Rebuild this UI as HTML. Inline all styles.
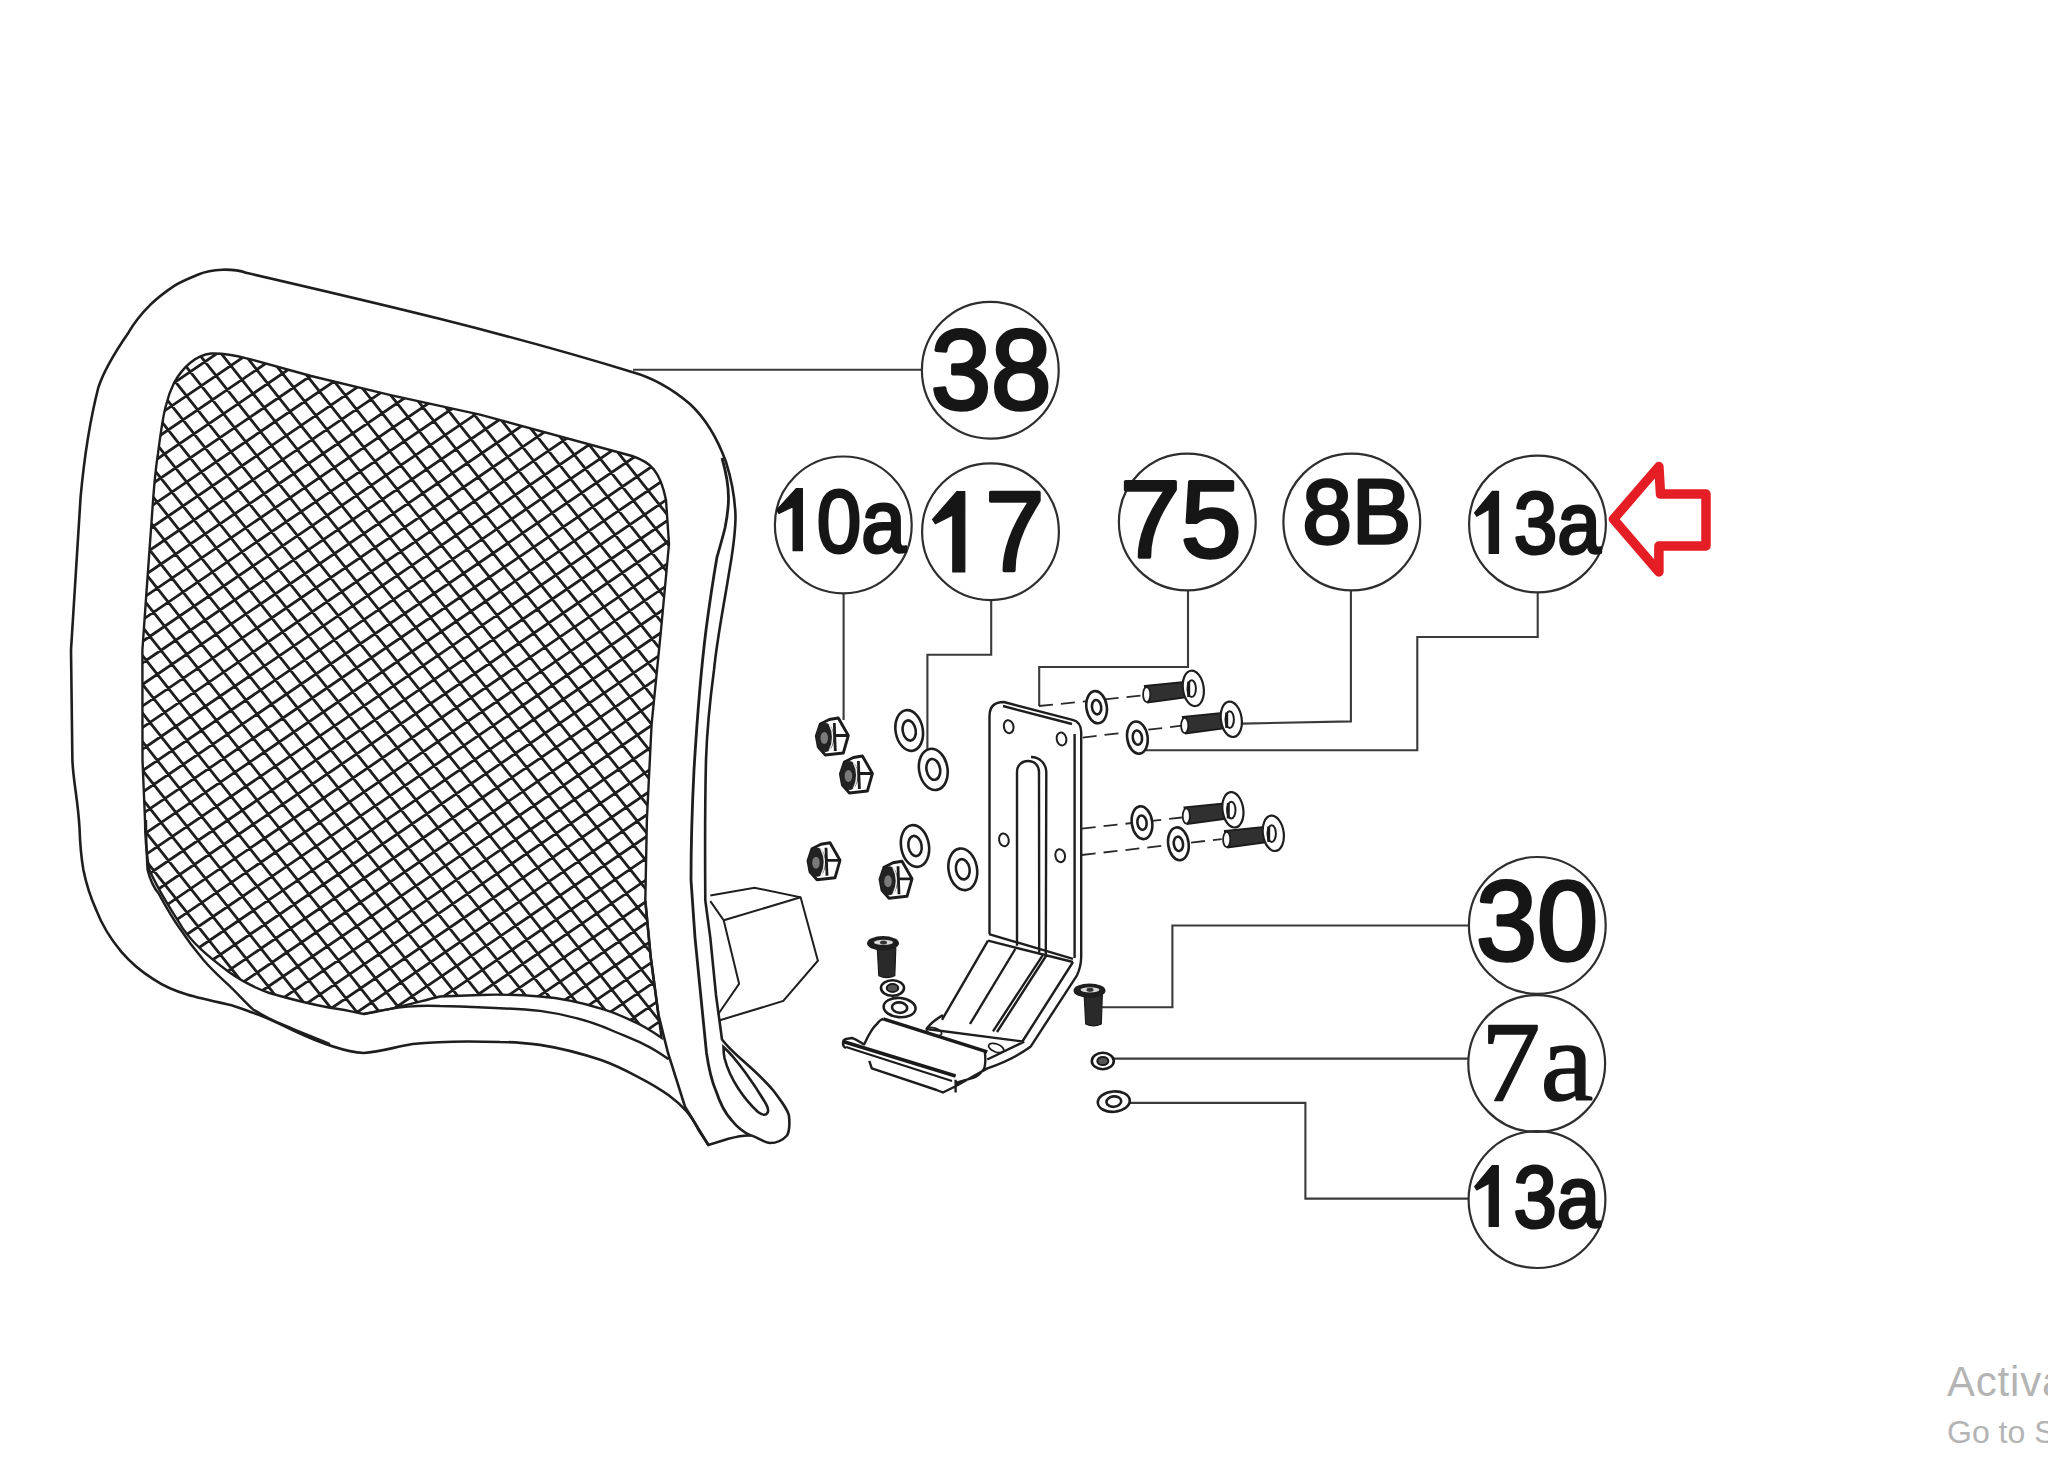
<!DOCTYPE html>
<html><head><meta charset="utf-8"><style>html,body{margin:0;padding:0;background:#fff;overflow:hidden}svg{display:block}</style></head>
<body><svg width="2048" height="1457" viewBox="0 0 2048 1457"><rect width="2048" height="1457" fill="#fff"/>
<defs><clipPath id="mc"><path d="M211,353.5 C225,353 236,355.5 246.7,358.3 L311.1,376 L391.7,395.4 L480,414.7 L632,456 C650,462 660,470 666,500 L669,544 L661,630 L651.6,724.4 L646.9,819.3 L645.3,900.5 L650.7,957 L661.5,1037.7 C650,1030 642,1025 632.7,1021.2 C620,1015 610,1011 601.8,1008.8 C580,1002 560,998 540,996.5 C520,995 500,994 480,995 L440,996.5 C410,1004 390,1010 363.7,1014 C350,1011 340,1009 330,1007.7 C310,1004 290,999 269.4,993 C255,988 240,980 228.2,971.5 C210,958 190,942 178.8,922 C170,908 158,890 149,869 C146,850 145,830 145,820 L142.5,760 L142.4,650 C146,600 150,540 153.3,497 C155,475 156.5,463 158,453.4 C161,430 163,415 166.1,405 C168,397 171,389 174.2,382.5 C183,367 196,355 211,353.5 Z"/></clipPath></defs>
<g clip-path="url(#mc)"><path d="M-1451.6,279.4L39.2,2160.2M-1436.9,269.4L54.0,2150.1M-1422.1,259.3L68.8,2140.1M-1407.4,249.2L83.5,2130.0M-1392.6,239.2L98.3,2119.9M-1377.8,229.1L113.0,2109.9M-1363.1,219.1L127.8,2099.8M-1348.3,209.0L142.6,2089.8M-1333.6,198.9L157.3,2079.7M-1318.8,188.9L172.1,2069.6M-1304.0,178.8L186.8,2059.6M-1289.3,168.8L201.6,2049.5M-1274.5,158.7L216.4,2039.5M-1259.8,148.6L231.1,2029.4M-1245.0,138.6L245.9,2019.3M-1230.2,128.5L260.6,2009.3M-1215.5,118.5L275.4,1999.2M-1200.7,108.4L290.2,1989.2M-1186.0,98.3L304.9,1979.1M-1171.2,88.3L319.7,1969.0M-1156.4,78.2L334.4,1959.0M-1141.7,68.2L349.2,1948.9M-1126.9,58.1L364.0,1938.9M-1112.2,48.0L378.7,1928.8M-1097.4,38.0L393.5,1918.7M-1082.6,27.9L408.2,1908.7M-1067.9,17.9L423.0,1898.6M-1053.1,7.8L437.8,1888.6M-1038.4,-2.3L452.5,1878.5M-1023.6,-12.3L467.3,1868.4M-1008.8,-22.4L482.0,1858.4M-994.1,-32.4L496.8,1848.3M-979.3,-42.5L511.6,1838.3M-964.6,-52.6L526.3,1828.2M-949.8,-62.6L541.1,1818.1M-935.0,-72.7L555.8,1808.1M-920.3,-82.7L570.6,1798.0M-905.5,-92.8L585.4,1788.0M-890.8,-102.9L600.1,1777.9M-876.0,-112.9L614.9,1767.8M-861.2,-123.0L629.6,1757.8M-846.5,-133.0L644.4,1747.7M-831.7,-143.1L659.2,1737.7M-817.0,-153.2L673.9,1727.6M-802.2,-163.2L688.7,1717.5M-787.4,-173.3L703.4,1707.5M-772.7,-183.3L718.2,1697.4M-757.9,-193.4L733.0,1687.4M-743.2,-203.5L747.7,1677.3M-728.4,-213.5L762.5,1667.2M-713.6,-223.6L777.2,1657.2M-698.9,-233.6L792.0,1647.1M-684.1,-243.7L806.8,1637.1M-669.4,-253.8L821.5,1627.0M-654.6,-263.8L836.3,1616.9M-639.8,-273.9L851.0,1606.9M-625.1,-283.9L865.8,1596.8M-610.3,-294.0L880.6,1586.8M-595.6,-304.1L895.3,1576.7M-580.8,-314.1L910.1,1566.6M-566.0,-324.2L924.8,1556.6M-551.3,-334.2L939.6,1546.5M-536.5,-344.3L954.4,1536.5M-521.8,-354.4L969.1,1526.4M-507.0,-364.4L983.9,1516.3M-492.2,-374.5L998.6,1506.3M-477.5,-384.5L1013.4,1496.2M-462.7,-394.6L1028.2,1486.2M-448.0,-404.7L1042.9,1476.1M-433.2,-414.7L1057.7,1466.0M-418.4,-424.8L1072.4,1456.0M-403.7,-434.8L1087.2,1445.9M-388.9,-444.9L1102.0,1435.9M-374.2,-455.0L1116.7,1425.8M-359.4,-465.0L1131.5,1415.7M-344.6,-475.1L1146.2,1405.7M-329.9,-485.1L1161.0,1395.6M-315.1,-495.2L1175.8,1385.6M-300.4,-505.3L1190.5,1375.5M-285.6,-515.3L1205.3,1365.4M-270.8,-525.4L1220.0,1355.4M-256.1,-535.4L1234.8,1345.3M-241.3,-545.5L1249.6,1335.3M-226.6,-555.6L1264.3,1325.2M-211.8,-565.6L1279.1,1315.1M-197.0,-575.7L1293.8,1305.1M-182.3,-585.7L1308.6,1295.0M-167.5,-595.8L1323.4,1285.0M-152.8,-605.9L1338.1,1274.9M-138.0,-615.9L1352.9,1264.8M-123.2,-626.0L1367.6,1254.8M-108.5,-636.0L1382.4,1244.7M-93.7,-646.1L1397.2,1234.7M-79.0,-656.2L1411.9,1224.6M-64.2,-666.2L1426.7,1214.5M-49.4,-676.3L1441.4,1204.5M-34.7,-686.3L1456.2,1194.4M-19.9,-696.4L1471.0,1184.4M-5.2,-706.5L1485.7,1174.3M9.6,-716.5L1500.5,1164.2M24.4,-726.6L1515.2,1154.2M39.1,-736.6L1530.0,1144.1M53.9,-746.7L1544.8,1134.1M68.6,-756.8L1559.5,1124.0M83.4,-766.8L1574.3,1113.9M98.2,-776.9L1589.0,1103.9M112.9,-786.9L1603.8,1093.8M127.7,-797.0L1618.6,1083.8M142.4,-807.1L1633.3,1073.7M157.2,-817.1L1648.1,1063.6M172.0,-827.2L1662.8,1053.6M186.7,-837.2L1677.6,1043.5M201.5,-847.3L1692.4,1033.5M216.2,-857.4L1707.1,1023.4M231.0,-867.4L1721.9,1013.3M245.8,-877.5L1736.6,1003.3M260.5,-887.5L1751.4,993.2M275.3,-897.6L1766.2,983.2M290.0,-907.7L1780.9,973.1M304.8,-917.7L1795.7,963.0M319.6,-927.8L1810.4,953.0M334.3,-937.8L1825.2,942.9M349.1,-947.9L1840.0,932.9M363.8,-958.0L1854.7,922.8M378.6,-968.0L1869.5,912.7M393.4,-978.1L1884.2,902.7M408.1,-988.1L1899.0,892.6M422.9,-998.2L1913.8,882.6M437.6,-1008.3L1928.5,872.5M452.4,-1018.3L1943.3,862.4M467.2,-1028.4L1958.0,852.4M481.9,-1038.4L1972.8,842.3M496.7,-1048.5L1987.6,832.3M511.4,-1058.6L2002.3,822.2M526.2,-1068.6L2017.1,812.1M541.0,-1078.7L2031.8,802.1M555.7,-1088.7L2046.6,792.0M570.5,-1098.8L2061.4,782.0M585.2,-1108.9L2076.1,771.9M600.0,-1118.9L2090.9,761.8M614.8,-1129.0L2105.6,751.8M-1440.9,212.1L542.3,-1139.5M-1429.8,226.1L553.4,-1125.5M-1418.7,240.1L564.5,-1111.6M-1407.6,254.1L575.6,-1097.6M-1396.5,268.1L586.6,-1083.6M-1385.4,282.1L597.7,-1069.6M-1374.3,296.1L608.8,-1055.6M-1363.3,310.1L619.9,-1041.6M-1352.2,324.1L631.0,-1027.6M-1341.1,338.0L642.1,-1013.6M-1330.0,352.0L653.2,-999.6M-1318.9,366.0L664.3,-985.6M-1307.8,380.0L675.4,-971.7M-1296.7,394.0L686.5,-957.7M-1285.6,408.0L697.5,-943.7M-1274.5,422.0L708.6,-929.7M-1263.4,436.0L719.7,-915.7M-1252.4,450.0L730.8,-901.7M-1241.3,464.0L741.9,-887.7M-1230.2,477.9L753.0,-873.7M-1219.1,491.9L764.1,-859.7M-1208.0,505.9L775.2,-845.7M-1196.9,519.9L786.3,-831.8M-1185.8,533.9L797.4,-817.8M-1174.7,547.9L808.4,-803.8M-1163.6,561.9L819.5,-789.8M-1152.5,575.9L830.6,-775.8M-1141.5,589.9L841.7,-761.8M-1130.4,603.9L852.8,-747.8M-1119.3,617.8L863.9,-733.8M-1108.2,631.8L875.0,-719.8M-1097.1,645.8L886.1,-705.8M-1086.0,659.8L897.2,-691.9M-1074.9,673.8L908.3,-677.9M-1063.8,687.8L919.3,-663.9M-1052.7,701.8L930.4,-649.9M-1041.6,715.8L941.5,-635.9M-1030.6,729.8L952.6,-621.9M-1019.5,743.8L963.7,-607.9M-1008.4,757.7L974.8,-593.9M-997.3,771.7L985.9,-579.9M-986.2,785.7L997.0,-565.9M-975.1,799.7L1008.1,-552.0M-964.0,813.7L1019.2,-538.0M-952.9,827.7L1030.2,-524.0M-941.8,841.7L1041.3,-510.0M-930.7,855.7L1052.4,-496.0M-919.7,869.7L1063.5,-482.0M-908.6,883.7L1074.6,-468.0M-897.5,897.6L1085.7,-454.0M-886.4,911.6L1096.8,-440.0M-875.3,925.6L1107.9,-426.0M-864.2,939.6L1119.0,-412.1M-853.1,953.6L1130.1,-398.1M-842.0,967.6L1141.1,-384.1M-830.9,981.6L1152.2,-370.1M-819.8,995.6L1163.3,-356.1M-808.8,1009.6L1174.4,-342.1M-797.7,1023.6L1185.5,-328.1M-786.6,1037.5L1196.6,-314.1M-775.5,1051.5L1207.7,-300.1M-764.4,1065.5L1218.8,-286.1M-753.3,1079.5L1229.9,-272.2M-742.2,1093.5L1241.0,-258.2M-731.1,1107.5L1252.0,-244.2M-720.0,1121.5L1263.1,-230.2M-708.9,1135.5L1274.2,-216.2M-697.9,1149.5L1285.3,-202.2M-686.8,1163.5L1296.4,-188.2M-675.7,1177.4L1307.5,-174.2M-664.6,1191.4L1318.6,-160.2M-653.5,1205.4L1329.7,-146.2M-642.4,1219.4L1340.8,-132.3M-631.3,1233.4L1351.9,-118.3M-620.2,1247.4L1362.9,-104.3M-609.1,1261.4L1374.0,-90.3M-598.0,1275.4L1385.1,-76.3M-587.0,1289.4L1396.2,-62.3M-575.9,1303.4L1407.3,-48.3M-564.8,1317.3L1418.4,-34.3M-553.7,1331.3L1429.5,-20.3M-542.6,1345.3L1440.6,-6.3M-531.5,1359.3L1451.7,7.6M-520.4,1373.3L1462.8,21.6M-509.3,1387.3L1473.8,35.6M-498.2,1401.3L1484.9,49.6M-487.1,1415.3L1496.0,63.6M-476.1,1429.3L1507.1,77.6M-465.0,1443.3L1518.2,91.6M-453.9,1457.2L1529.3,105.6M-442.8,1471.2L1540.4,119.6M-431.7,1485.2L1551.5,133.6M-420.6,1499.2L1562.6,147.5M-409.5,1513.2L1573.7,161.5M-398.4,1527.2L1584.7,175.5M-387.3,1541.2L1595.8,189.5M-376.2,1555.2L1606.9,203.5M-365.2,1569.2L1618.0,217.5M-354.1,1583.2L1629.1,231.5M-343.0,1597.1L1640.2,245.5M-331.9,1611.1L1651.3,259.5M-320.8,1625.1L1662.4,273.5M-309.7,1639.1L1673.5,287.4M-298.6,1653.1L1684.6,301.4M-287.5,1667.1L1695.6,315.4M-276.4,1681.1L1706.7,329.4M-265.3,1695.1L1717.8,343.4M-254.3,1709.1L1728.9,357.4M-243.2,1723.1L1740.0,371.4M-232.1,1737.0L1751.1,385.4M-221.0,1751.0L1762.2,399.4M-209.9,1765.0L1773.3,413.4M-198.8,1779.0L1784.4,427.3M-187.7,1793.0L1795.5,441.3M-176.6,1807.0L1806.5,455.3M-165.5,1821.0L1817.6,469.3M-154.4,1835.0L1828.7,483.3M-143.4,1849.0L1839.8,497.3M-132.3,1863.0L1850.9,511.3M-121.2,1876.9L1862.0,525.3M-110.1,1890.9L1873.1,539.3M-99.0,1904.9L1884.2,553.3M-87.9,1918.9L1895.3,567.2M-76.8,1932.9L1906.4,581.2M-65.7,1946.9L1917.4,595.2M-54.6,1960.9L1928.5,609.2M-43.5,1974.9L1939.6,623.2M-32.5,1988.9L1950.7,637.2M-21.4,2002.9L1961.8,651.2M-10.3,2016.8L1972.9,665.2M0.8,2030.8L1984.0,679.2M11.9,2044.8L1995.1,693.2M23.0,2058.8L2006.2,707.1M34.1,2072.8L2017.3,721.1M45.2,2086.8L2028.3,735.1M56.3,2100.8L2039.4,749.1M67.4,2114.8L2050.5,763.1M78.4,2128.8L2061.6,777.1M89.5,2142.8L2072.7,791.1M100.6,2156.7L2083.8,805.1M111.7,2170.7L2094.9,819.1" stroke="#1e1e1e" stroke-width="2.8" fill="none"/></g>
<path d="M211,353.5 C225,353 236,355.5 246.7,358.3 L311.1,376 L391.7,395.4 L480,414.7 L632,456 C650,462 660,470 666,500 L669,544 L661,630 L651.6,724.4 L646.9,819.3 L645.3,900.5 L650.7,957 L661.5,1037.7 C650,1030 642,1025 632.7,1021.2 C620,1015 610,1011 601.8,1008.8 C580,1002 560,998 540,996.5 C520,995 500,994 480,995 L440,996.5 C410,1004 390,1010 363.7,1014 C350,1011 340,1009 330,1007.7 C310,1004 290,999 269.4,993 C255,988 240,980 228.2,971.5 C210,958 190,942 178.8,922 C170,908 158,890 149,869 C146,850 145,830 145,820 L142.5,760 L142.4,650 C146,600 150,540 153.3,497 C155,475 156.5,463 158,453.4 C161,430 163,415 166.1,405 C168,397 171,389 174.2,382.5 C183,367 196,355 211,353.5 Z" stroke="#1e1e1e" stroke-width="2.4" fill="none"/>
<path d="M246.7,272.9 C376.7,303 502,332 632,372 C650,377 670,387 690,404 C705,418 718,440 726,462 C731,478 735,500 735.5,516 C735.5,540 731,560 727.5,582.2 C722,615 717,640 714,670 C710,700 707,730 706,760 C705,800 705,860 705.3,900.5 L710.3,937.6 L716,995 L722,1039.5 C730,1050 738,1056 745,1062.5 C758,1074 768,1084 773.7,1091 C782,1102 788,1110 789,1116 C790,1126 789,1132 787,1135.5 C782,1141 776,1143 770,1143 C762,1142 756,1136 750.6,1135.5 C742,1135 735,1137 727.6,1139 L708.4,1145 C704,1138 701,1134 698.6,1130 C695,1123 690,1115 686.2,1110.8 C680,1104 675,1100 668.7,1095.3 C660,1089 648,1082 637.8,1076.8 C625,1070 612,1064 601.8,1060.3 C580,1053 560,1048 540,1044.9 C525,1043 510,1042 500,1042 C470,1041 440,1041 412.5,1044 C395,1047 380,1052 363.7,1053 C345,1052 320,1043 294,1030.8 C280,1024 266,1017 253,1012.7 C240,1008 235,1006 228.2,1004.5 C212,1001 198,998 187,994.6 C172,990 162,985 154.1,979.7 C140,971 130,962 121.2,951.7 C110,938 102,925 96.5,910.6 C90,896 86,883 83.3,869.4 C81,856 80,842 79.5,828 C78,800 73,780 72.4,760 L71,650 C74,600 77,550 80.6,497 C84,460 90,420 98.4,387.3 C104,370 115,352 128.6,332.4 C134,323 140,315 150,305.1 C157,298 165,292 174.2,285.8 C182,281 190,278 198.3,274.5 C205,271.5 212,270 222.5,269.7 C230,269.5 238,270 246.7,272.9 Z" stroke="#1e1e1e" stroke-width="2.6" fill="none"/>
<path d="M722,458 C726,472 728.5,488 728.5,498 C728.5,510 727,518 725,528 C722,540 719,550 717,557 C713,580 710,600 706,630 C701,670 697,720 694,770 C692,810 691,850 691,880 L695,937.6 L700.7,995 L706.5,1053 C709,1070 712,1082 716,1091 C720,1103 725,1113 731.4,1120 C737,1127 743,1132 750.6,1135.5" stroke="#1e1e1e" stroke-width="2.8" fill="none"/>
<path d="M645.3,900.5 L650.7,957 L658.4,1014.5 L668,1053 L685,1106.7 L708.4,1145" stroke="#1e1e1e" stroke-width="2.6" fill="none"/>
<path d="M723.5,1047 C736,1058 755,1085 766,1104 C771,1113 766,1118 758,1112 C745,1100 730,1080 724.5,1058 C723.5,1053 723.5,1050 723.5,1047 Z" stroke="#1e1e1e" stroke-width="2.6" fill="none"/>
<path d="M363.7,1014 C400,1006 420,1005 440,1006 C480,1007 510,1008 540,1010.9 C570,1015 595,1023 612.1,1030.5 C625,1036 635,1040 643,1043.8 C652,1048 660,1053 668.7,1059.3" stroke="#1e1e1e" stroke-width="2.4" fill="none"/>
<path d="M146,820 C146,840 147,860 147.5,869.4 C150,880 154,888 159,894.1 C165,905 171,916 178.8,927 C186,938 195,950 203.5,960 C212,970 220,977 228.2,984.7 C237,993 245,1002 253,1009.4 C262,1015 273,1021 285.9,1025.9 C300,1032 315,1038 330,1044" stroke="#1e1e1e" stroke-width="2.4" fill="none"/>
<path d="M710.3,895.4 L754.5,887.7 L800.6,897.3 L817.9,960.7 L783.3,1001 L719.9,1020.2" stroke="#1e1e1e" stroke-width="2" fill="none"/>
<path d="M710.3,901.1 L723.7,920.3 L800.6,897.3 M723.7,920.3 L739.1,983.7 L718,1014.5" stroke="#1e1e1e" stroke-width="2" fill="none"/>
<path d="M633,369.8 H922" stroke="#3a3a3a" stroke-width="2.1" fill="none"/>
<path d="M843.6,593 V720" stroke="#3a3a3a" stroke-width="2.1" fill="none"/>
<path d="M991.2,600 V654.7 H927.4 V749" stroke="#3a3a3a" stroke-width="2.1" fill="none"/>
<path d="M1188,590 V667 H1039.2 V706" stroke="#3a3a3a" stroke-width="2.1" fill="none"/>
<path d="M1350.9,590 V721.4 L1242,723.6" stroke="#3a3a3a" stroke-width="2.1" fill="none"/>
<path d="M1537.7,592.4 V637 H1417.3 V750.3 H1146" stroke="#3a3a3a" stroke-width="2.1" fill="none"/>
<path d="M1469,925.5 H1172.4 V1007.2 H1100" stroke="#3a3a3a" stroke-width="2.1" fill="none"/>
<path d="M1468,1058.6 H1114" stroke="#3a3a3a" stroke-width="2.1" fill="none"/>
<path d="M1468,1198.6 H1305.4 V1102.9 H1130" stroke="#3a3a3a" stroke-width="2.1" fill="none"/>
<path d="M989.5,934 L989.5,716 C989.5,706 995,702 1003.9,702 L1072.5,719.8 C1078,721 1081,726 1081.2,732 L1081.2,957 M1003,706 L1072,724 M1074.6,734 L1074.6,958 M1017,945.7 L1017,772 C1017,765 1022,761 1028,761 C1035,761 1039,766 1039,772 L1039.2,952.3 M1031,757 C1040,757 1046,764 1046.3,772 L1045.8,954.7 M989,934.1 L1073,958.8 M988,940.7 L1073,962 M988,940.7 L942,1019.8 M1015.3,949 L970,1024 M1042.5,955.6 L993,1031.3 M1046,956 L997,1032 M1073,962 L1022.7,1041 M1081.2,957 C1081,966 1079,971 1077,975.3 L1030.5,1046.8 M846,1048 C842,1046 842,1040 846,1039 L852,1038 C858,1040 861,1043 864.2,1044.3 C868,1036 872,1028 876.9,1024 C879,1021 881,1019.5 883.2,1018.9 M926.4,1029 C930,1024 936,1019 942.9,1015.1 M987.3,1059.5 L1024.2,1041.7 M984.8,1052 C986,1060 985,1068 983.5,1069.6 C980,1074 976,1077 974.6,1077.3 L955.6,1083 M1030.5,1046.8 C1015,1058 1000,1064 987.3,1068.4 L955.6,1086.2 L942.9,1092.5 L936.6,1090 L871.8,1068.4 L869.3,1060.8 M955.6,1079.8 L955.6,1092.5 M926.4,1029 L1024.2,1041.7" stroke="#1e1e1e" stroke-width="2.4" fill="none" stroke-linejoin="round"/>
<path d="M843.9,1041.7 L955.6,1076 M883.2,1018.9 L987.3,1051.9" stroke="#1a1a1a" stroke-width="3.6" fill="none"/>
<path d="M846,1047 L952,1081" stroke="#1a1a1a" stroke-width="2" fill="none"/>
<ellipse cx="1008.7" cy="726.7" rx="4.8" ry="6.5" transform="rotate(-12 1008.7 726.7)" stroke="#1e1e1e" stroke-width="2" fill="none"/>
<ellipse cx="1061.5" cy="739" rx="4.8" ry="6.5" transform="rotate(-12 1061.5 739)" stroke="#1e1e1e" stroke-width="2" fill="none"/>
<ellipse cx="1003.9" cy="839.9" rx="4.8" ry="6.5" transform="rotate(-12 1003.9 839.9)" stroke="#1e1e1e" stroke-width="2" fill="none"/>
<ellipse cx="1060.2" cy="855.7" rx="4.8" ry="6.5" transform="rotate(-12 1060.2 855.7)" stroke="#1e1e1e" stroke-width="2" fill="none"/>
<ellipse cx="996.2" cy="1048" rx="8" ry="4" transform="rotate(20 996.2 1048)" stroke="#1e1e1e" stroke-width="1.8" fill="none"/>
<ellipse cx="934" cy="1031.6" rx="8" ry="3.6" transform="rotate(18 934 1031.6)" stroke="#1e1e1e" stroke-width="1.8" fill="none"/>
<path d="M1039,706 L1143.4,695.4" stroke="#2a2a2a" stroke-width="1.8" stroke-dasharray="14 8" fill="none"/>
<path d="M1082.7,737.6 L1181.6,725.7" stroke="#2a2a2a" stroke-width="1.8" stroke-dasharray="14 8" fill="none"/>
<path d="M1081.7,828.6 L1181.9,817.5" stroke="#2a2a2a" stroke-width="1.8" stroke-dasharray="14 8" fill="none"/>
<path d="M1081.7,855 L1221.7,839.1" stroke="#2a2a2a" stroke-width="1.8" stroke-dasharray="14 8" fill="none"/>
<g transform="rotate(-10 909.2 730.5)"><ellipse cx="909.2" cy="730.5" rx="13.6" ry="20.5" stroke="#1e1e1e" stroke-width="2.6" fill="#fff"/><ellipse cx="909.2" cy="730.5" rx="6.5" ry="10.2" stroke="#1e1e1e" stroke-width="2.6" fill="none"/></g>
<g transform="rotate(-10 933.3 769.4)"><ellipse cx="933.3" cy="769.4" rx="14.2" ry="20.8" stroke="#1e1e1e" stroke-width="2.6" fill="#fff"/><ellipse cx="933.3" cy="769.4" rx="6.8" ry="10.5" stroke="#1e1e1e" stroke-width="2.6" fill="none"/></g>
<g transform="rotate(-10 915 846)"><ellipse cx="915" cy="846" rx="13.9" ry="21" stroke="#1e1e1e" stroke-width="2.6" fill="#fff"/><ellipse cx="915" cy="846" rx="6.6" ry="10.2" stroke="#1e1e1e" stroke-width="2.6" fill="none"/></g>
<g transform="rotate(-10 962.8 869.3)"><ellipse cx="962.8" cy="869.3" rx="14.2" ry="21" stroke="#1e1e1e" stroke-width="2.6" fill="#fff"/><ellipse cx="962.8" cy="869.3" rx="6.8" ry="10.2" stroke="#1e1e1e" stroke-width="2.6" fill="none"/></g>
<g transform="rotate(-8 1096.6 707.2)"><ellipse cx="1096.6" cy="707.2" rx="10.2" ry="16.2" stroke="#1e1e1e" stroke-width="2.6" fill="#fff"/><ellipse cx="1096.6" cy="707.2" rx="4.6" ry="7.2" stroke="#1e1e1e" stroke-width="2.6" fill="none"/></g>
<g transform="rotate(-8 1137.4 737.6)"><ellipse cx="1137.4" cy="737.6" rx="10.2" ry="16.2" stroke="#1e1e1e" stroke-width="2.6" fill="#fff"/><ellipse cx="1137.4" cy="737.6" rx="4.6" ry="7.2" stroke="#1e1e1e" stroke-width="2.6" fill="none"/></g>
<g transform="rotate(-8 1142 822.7)"><ellipse cx="1142" cy="822.7" rx="10.2" ry="16.5" stroke="#1e1e1e" stroke-width="2.6" fill="#fff"/><ellipse cx="1142" cy="822.7" rx="4.6" ry="7.2" stroke="#1e1e1e" stroke-width="2.6" fill="none"/></g>
<g transform="rotate(-8 1178.4 843.8)"><ellipse cx="1178.4" cy="843.8" rx="10.2" ry="16.5" stroke="#1e1e1e" stroke-width="2.6" fill="#fff"/><ellipse cx="1178.4" cy="843.8" rx="4.6" ry="7.2" stroke="#1e1e1e" stroke-width="2.6" fill="none"/></g>
<g transform="rotate(5 899.6 1007.6)"><ellipse cx="899.6" cy="1007.6" rx="16" ry="9.6" stroke="#1e1e1e" stroke-width="2.6" fill="#fff"/><ellipse cx="899.6" cy="1007.6" rx="7.6" ry="5.2" stroke="#1e1e1e" stroke-width="2.6" fill="none"/></g>
<g transform="rotate(-5 1113.8 1101.6)"><ellipse cx="1113.8" cy="1101.6" rx="16" ry="10.2" stroke="#1e1e1e" stroke-width="2.6" fill="#fff"/><ellipse cx="1113.8" cy="1101.6" rx="7.4" ry="5.2" stroke="#1e1e1e" stroke-width="2.6" fill="none"/></g>
<g><path d="M1144.8,686.0 L1188.7,681.6 L1188.7,697.0 L1147.8999999999999,702.6 Z" fill="#303030" stroke="#1a1a1a" stroke-width="1.8"/><ellipse cx="1193.3" cy="688.4" rx="10.4" ry="17.8" transform="rotate(-8 1193.3 688.4)" stroke="#1e1e1e" stroke-width="2.2" fill="#fff"/><ellipse cx="1191.7" cy="688.6999999999999" rx="4.2" ry="8.4" stroke="#1e1e1e" stroke-width="2" fill="#fff"/><path d="M1188.7,681.6 L1188.7,697.0" stroke="#1a1a1a" stroke-width="3"/><ellipse cx="1146.7" cy="694.6" rx="3.6" ry="7.6" stroke="#1e1e1e" stroke-width="1.8" fill="#fff"/></g>
<g><path d="M1182.8,716.9 L1226.7,712.5 L1226.7,727.9 L1185.8999999999999,733.5 Z" fill="#303030" stroke="#1a1a1a" stroke-width="1.8"/><ellipse cx="1231.3" cy="719.3" rx="10.4" ry="17.8" transform="rotate(-8 1231.3 719.3)" stroke="#1e1e1e" stroke-width="2.2" fill="#fff"/><ellipse cx="1229.7" cy="719.5999999999999" rx="4.2" ry="8.4" stroke="#1e1e1e" stroke-width="2" fill="#fff"/><path d="M1226.7,712.5 L1226.7,727.9" stroke="#1a1a1a" stroke-width="3"/><ellipse cx="1184.7" cy="725.5" rx="3.6" ry="7.6" stroke="#1e1e1e" stroke-width="1.8" fill="#fff"/></g>
<g><path d="M1184.4,807.4 L1228.3000000000002,803.0 L1228.3000000000002,818.4 L1187.5,824.0 Z" fill="#303030" stroke="#1a1a1a" stroke-width="1.8"/><ellipse cx="1232.9" cy="809.8" rx="10.4" ry="17.8" transform="rotate(-8 1232.9 809.8)" stroke="#1e1e1e" stroke-width="2.2" fill="#fff"/><ellipse cx="1231.3000000000002" cy="810.0999999999999" rx="4.2" ry="8.4" stroke="#1e1e1e" stroke-width="2" fill="#fff"/><path d="M1228.3000000000002,803.0 L1228.3000000000002,818.4" stroke="#1a1a1a" stroke-width="3"/><ellipse cx="1186.3000000000002" cy="816.0" rx="3.6" ry="7.6" stroke="#1e1e1e" stroke-width="1.8" fill="#fff"/></g>
<g><path d="M1224.8,830.9 L1268.7,826.5 L1268.7,841.9 L1227.8999999999999,847.5 Z" fill="#303030" stroke="#1a1a1a" stroke-width="1.8"/><ellipse cx="1273.3" cy="833.3" rx="10.4" ry="17.8" transform="rotate(-8 1273.3 833.3)" stroke="#1e1e1e" stroke-width="2.2" fill="#fff"/><ellipse cx="1271.7" cy="833.5999999999999" rx="4.2" ry="8.4" stroke="#1e1e1e" stroke-width="2" fill="#fff"/><path d="M1268.7,826.5 L1268.7,841.9" stroke="#1a1a1a" stroke-width="3"/><ellipse cx="1226.7" cy="839.5" rx="3.6" ry="7.6" stroke="#1e1e1e" stroke-width="1.8" fill="#fff"/></g>
<polygon points="816.3,736.0 820.3,724.0 829.3,719.5 838.3,718.0 848.3,735.5 843.3,753.0 825.3,755.0 818.3,747.0" fill="#fff" stroke="#1c1c1c" stroke-width="2.9" stroke-linejoin="round"/>
<ellipse cx="825.3" cy="737.5" rx="9" ry="14.5" fill="#222"/>
<ellipse cx="824.3" cy="738" rx="3.8" ry="6" fill="#7a7a7a"/>
<path d="M829.3,724 Q836.3,737 829.3,751" stroke="#e8e8e8" stroke-width="1.6" fill="none"/>
<path d="M834.3,723 L835.3,751 M834.3,735.5 L847.8,735.5" stroke="#1c1c1c" stroke-width="2.8" fill="none"/>
<polygon points="840.4,774.0 844.4,762.0 853.4,757.5 862.4,756.0 872.4,773.5 867.4,791.0 849.4,793.0 842.4,785.0" fill="#fff" stroke="#1c1c1c" stroke-width="2.9" stroke-linejoin="round"/>
<ellipse cx="849.4" cy="775.5" rx="9" ry="14.5" fill="#222"/>
<ellipse cx="848.4" cy="776" rx="3.8" ry="6" fill="#7a7a7a"/>
<path d="M853.4,762 Q860.4,775 853.4,789" stroke="#e8e8e8" stroke-width="1.6" fill="none"/>
<path d="M858.4,761 L859.4,789 M858.4,773.5 L871.9,773.5" stroke="#1c1c1c" stroke-width="2.8" fill="none"/>
<polygon points="808.0,860.8 812.0,848.8 821.0,844.3 830.0,842.8 840.0,860.3 835.0,877.8 817.0,879.8 810.0,871.8" fill="#fff" stroke="#1c1c1c" stroke-width="2.9" stroke-linejoin="round"/>
<ellipse cx="817" cy="862.3" rx="9" ry="14.5" fill="#222"/>
<ellipse cx="816" cy="862.8" rx="3.8" ry="6" fill="#7a7a7a"/>
<path d="M821,848.8 Q828,861.8 821,875.8" stroke="#e8e8e8" stroke-width="1.6" fill="none"/>
<path d="M826,847.8 L827,875.8 M826,860.3 L839.5,860.3" stroke="#1c1c1c" stroke-width="2.8" fill="none"/>
<polygon points="880.0,879.3 884.0,867.3 893.0,862.8 902.0,861.3 912.0,878.8 907.0,896.3 889.0,898.3 882.0,890.3" fill="#fff" stroke="#1c1c1c" stroke-width="2.9" stroke-linejoin="round"/>
<ellipse cx="889" cy="880.8" rx="9" ry="14.5" fill="#222"/>
<ellipse cx="888" cy="881.3" rx="3.8" ry="6" fill="#7a7a7a"/>
<path d="M893,867.3 Q900,880.3 893,894.3" stroke="#e8e8e8" stroke-width="1.6" fill="none"/>
<path d="M898,866.3 L899,894.3 M898,878.8 L911.5,878.8" stroke="#1c1c1c" stroke-width="2.8" fill="none"/>
<path d="M877.3,948 L895.8,948 L894.8,975.6 Q886.55,979.6 878.8,975.6 Z" fill="#2a2a2a" stroke="#1a1a1a" stroke-width="1.2"/>
<ellipse cx="883.0" cy="943.3000000000001" rx="16" ry="7.2" fill="#1e1e1e"/>
<ellipse cx="883.5" cy="942.4" rx="9.5" ry="2.6" fill="#d8d8d8"/>
<ellipse cx="883.5" cy="942.4" rx="3.5" ry="2" fill="#333"/>
<path d="M1084.2,995 L1102.3,995 L1101.3,1023.9000000000001 Q1093.25,1027.9 1085.7,1023.9000000000001 Z" fill="#2a2a2a" stroke="#1a1a1a" stroke-width="1.2"/>
<ellipse cx="1089.5" cy="990.7" rx="16" ry="7.2" fill="#1e1e1e"/>
<ellipse cx="1090" cy="989.8" rx="9.5" ry="2.6" fill="#d8d8d8"/>
<ellipse cx="1090" cy="989.8" rx="3.5" ry="2" fill="#333"/>
<ellipse cx="892.5" cy="988" rx="11.5" ry="7.8" stroke="#1a1a1a" stroke-width="2.6" fill="#fff"/>
<ellipse cx="892.5" cy="988" rx="5.75" ry="3.9" stroke="#1a1a1a" stroke-width="2" fill="#555"/>
<ellipse cx="1102.8" cy="1061" rx="11" ry="8.2" stroke="#1a1a1a" stroke-width="2.6" fill="#fff"/>
<ellipse cx="1102.8" cy="1061" rx="5.5" ry="4.1" stroke="#1a1a1a" stroke-width="2" fill="#555"/>
<circle cx="990.3" cy="370.2" r="68.4" stroke="#2e2e2e" stroke-width="2.2" fill="none"/>
<circle cx="843.3" cy="524.9" r="68.4" stroke="#2e2e2e" stroke-width="2.2" fill="none"/>
<circle cx="990.5" cy="531.7" r="68.4" stroke="#2e2e2e" stroke-width="2.2" fill="none"/>
<circle cx="1187.3" cy="522" r="68.4" stroke="#2e2e2e" stroke-width="2.2" fill="none"/>
<circle cx="1351.8" cy="522" r="68.4" stroke="#2e2e2e" stroke-width="2.2" fill="none"/>
<circle cx="1537.5" cy="524" r="68.4" stroke="#2e2e2e" stroke-width="2.2" fill="none"/>
<circle cx="1537.3" cy="925.4" r="68.4" stroke="#2e2e2e" stroke-width="2.2" fill="none"/>
<circle cx="1536.7" cy="1063.5" r="68.4" stroke="#2e2e2e" stroke-width="2.2" fill="none"/>
<circle cx="1537" cy="1199.6" r="68.4" stroke="#2e2e2e" stroke-width="2.2" fill="none"/>
<text transform="matrix(0.9529,0,0,0.9940,930.64,408.92)" x="0" y="0" font-family="&quot;Liberation Sans&quot;, sans-serif" font-weight="400" font-size="114" fill="#161616" stroke="#161616" stroke-width="3.6" stroke-linejoin="round" xml:space="preserve">38</text>
<text transform="matrix(0.9098,0,0,1.0172,772.15,551.67)" x="0" y="0" font-family="&quot;Liberation Sans&quot;, sans-serif" font-weight="400" font-size="88" fill="#161616" stroke="#161616" stroke-width="3.1" stroke-linejoin="round" xml:space="preserve"> 0a</text>
<text transform="matrix(0.9328,0,0,0.9963,926.07,570.61)" x="0" y="0" font-family="&quot;Liberation Sans&quot;, sans-serif" font-weight="400" font-size="114" fill="#161616" stroke="#161616" stroke-width="3.6" stroke-linejoin="round" xml:space="preserve"> 7</text>
<text transform="matrix(0.9737,0,0,0.9817,1120.11,557.35)" x="0" y="0" font-family="&quot;Liberation Sans&quot;, sans-serif" font-weight="400" font-size="112" fill="#161616" stroke="#161616" stroke-width="3.6" stroke-linejoin="round" xml:space="preserve">75</text>
<text transform="matrix(0.9532,0,0,0.9714,1302.59,543.39)" x="0" y="0" font-family="&quot;Liberation Sans&quot;, sans-serif" font-weight="400" font-size="93" fill="#161616" stroke="#161616" stroke-width="3.4" stroke-linejoin="round" xml:space="preserve">8B</text>
<text transform="matrix(0.8895,0,0,0.9922,1470.15,552.82)" x="0" y="0" font-family="&quot;Liberation Sans&quot;, sans-serif" font-weight="400" font-size="88" fill="#161616" stroke="#161616" stroke-width="3.1" stroke-linejoin="round" xml:space="preserve"> 3a</text>
<text transform="matrix(0.9620,0,0,0.9929,1475.91,959.72)" x="0" y="0" font-family="&quot;Liberation Sans&quot;, sans-serif" font-weight="400" font-size="114" fill="#161616" stroke="#161616" stroke-width="3.6" stroke-linejoin="round" xml:space="preserve">30</text>
<text transform="matrix(1.0440,0,0,1.0052,1481.09,1099.89)" x="0" y="0" font-family="&quot;Liberation Serif&quot;, serif" font-weight="400" font-size="114" fill="#161616" stroke="#161616" stroke-width="1.4" stroke-linejoin="round" xml:space="preserve">7a</text>
<text transform="matrix(0.8832,0,0,0.9906,1470.28,1226.72)" x="0" y="0" font-family="&quot;Liberation Sans&quot;, sans-serif" font-weight="400" font-size="88" fill="#161616" stroke="#161616" stroke-width="3.1" stroke-linejoin="round" xml:space="preserve"> 3a</text>
<polygon points="796.2,488.6 802.4,488.6 802.4,550.7 793.1,550.7 793.1,506.6 778.9,513.4 776.7,510.0" fill="#161616" stroke="#161616" stroke-width="1.2" stroke-linejoin="round"/>
<polygon points="956.8,491.7 964.8,491.7 964.8,572.0 952.8,572.0 952.8,515.0 935.4,523.8 932.6,519.4" fill="#161616" stroke="#161616" stroke-width="1.2" stroke-linejoin="round"/>
<polygon points="1492.3,491.3 1498.5,491.3 1498.5,553.5 1489.2,553.5 1489.2,509.3 1476.8,516.2 1474.6,512.8" fill="#161616" stroke="#161616" stroke-width="1.2" stroke-linejoin="round"/>
<polygon points="1492.2,1165.6 1498.3,1165.6 1498.3,1226.5 1489.2,1226.5 1489.2,1183.3 1476.8,1190.0 1474.7,1186.6" fill="#161616" stroke="#161616" stroke-width="1.2" stroke-linejoin="round"/>
<path d="M1613.5,519.2 L1658.9,466.5 L1660.5,494 L1706,494 L1706,546 L1658.9,546 L1658.9,572 Z" stroke="#e51e26" stroke-width="9.5" stroke-linejoin="round" fill="none"/>
<text x="1947" y="1396" font-family="&quot;Liberation Sans&quot;, sans-serif" font-size="42" letter-spacing="0.8" fill="#b4b4b4">Activate Windows</text>
<text x="1947" y="1443" font-family="&quot;Liberation Sans&quot;, sans-serif" font-size="32" fill="#b4b4b4">Go to Settings to activate Windows.</text>
</svg></body></html>
